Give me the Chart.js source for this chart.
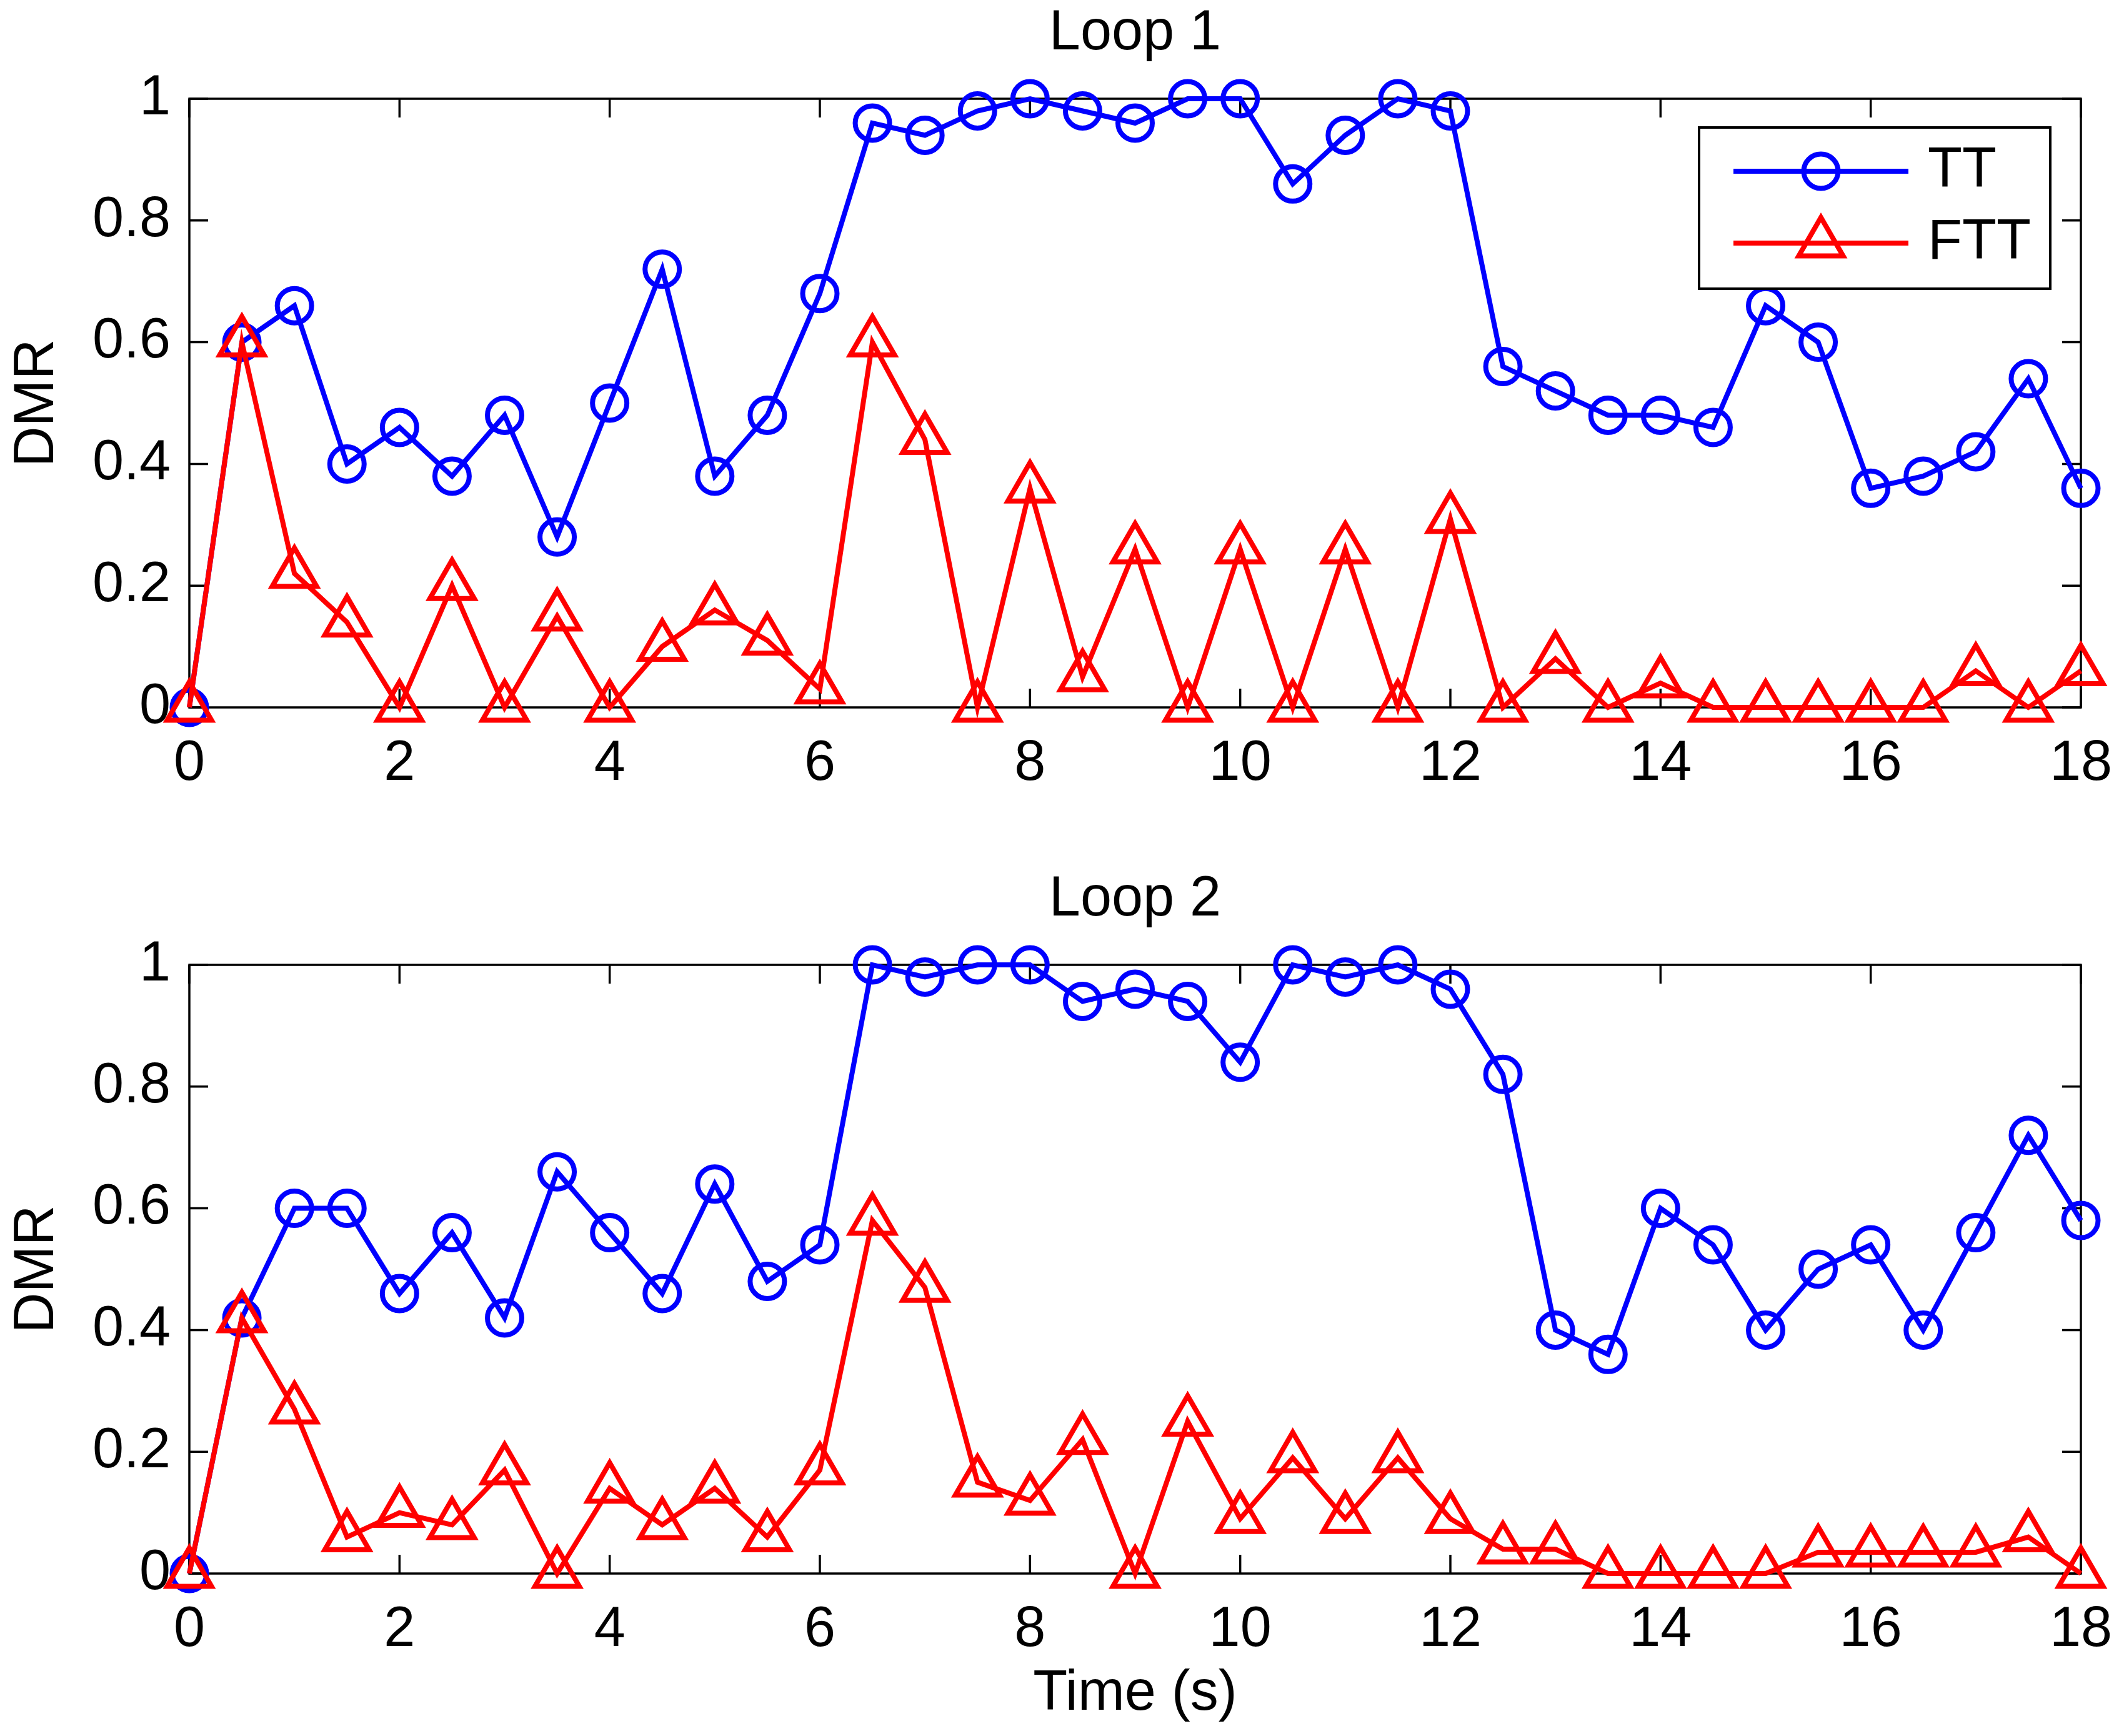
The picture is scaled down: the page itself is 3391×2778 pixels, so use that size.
<!DOCTYPE html>
<html>
<head>
<meta charset="utf-8">
<script src="https://cdn.jsdelivr.net/npm/chart.js@4.4.1/dist/chart.umd.min.js"></script>
<style>
  html, body { margin: 0; padding: 0; background: #fff; }
  #wrap { position: relative; width: 3391px; height: 2778px; }
  .panel { position: absolute; left: 0; }
</style>
</head>
<body>
<div id="wrap">
  <canvas id="loop1" class="panel" width="3391" height="1390" style="top:0px"></canvas>
  <canvas id="loop2" class="panel" width="3391" height="1388" style="top:1390px"></canvas>
</div>
<script>
// time axis (s)
const times = [0, 0.5, 1, 1.5, 2, 2.5, 3, 3.5, 4, 4.5, 5, 5.5, 6, 6.5, 7, 7.5, 8, 8.5, 9, 9.5,
  10, 10.5, 11, 11.5, 12, 12.5, 13, 13.5, 14, 14.5, 15, 15.5, 16, 16.5, 17, 17.5, 18];

// Loop 1
const loop1TT = [0, 0.60, 0.66, 0.40, 0.46, 0.38, 0.48, 0.28, 0.50, 0.72,
  0.38, 0.48, 0.68, 0.96, 0.94, 0.98, 1.00, 0.98, 0.96, 1.00,
  1.00, 0.86, 0.94, 1.00, 0.98, 0.56, 0.52, 0.48, 0.48, 0.46,
  0.66, 0.60, 0.36, 0.38, 0.42, 0.54, 0.36];
const loop1FTT = [0, 0.60, 0.22, 0.14, 0, 0.20, 0, 0.15, 0, 0.10,
  0.16, 0.11, 0.03, 0.60, 0.44, 0, 0.36, 0.05, 0.26, 0,
  0.26, 0, 0.26, 0, 0.31, 0, 0.08, 0, 0.04, 0,
  0, 0, 0, 0, 0.06, 0, 0.06];

// Loop 2
const loop2TT = [0, 0.42, 0.60, 0.60, 0.46, 0.56, 0.42, 0.66, 0.56, 0.46,
  0.64, 0.48, 0.54, 1.00, 0.98, 1.00, 1.00, 0.94, 0.96, 0.94,
  0.84, 1.00, 0.98, 1.00, 0.96, 0.82, 0.40, 0.36, 0.60, 0.54,
  0.40, 0.50, 0.54, 0.40, 0.56, 0.72, 0.58];
const loop2FTT = [0, 0.42, 0.27, 0.06, 0.10, 0.08, 0.17, 0, 0.14, 0.08,
  0.14, 0.06, 0.17, 0.58, 0.47, 0.15, 0.12, 0.22, 0, 0.25,
  0.09, 0.19, 0.09, 0.19, 0.09, 0.04, 0.04, 0, 0, 0,
  0, 0.035, 0.035, 0.035, 0.035, 0.06, 0];

const seriesNames = ['TT', 'FTT'];
const xTicks = [0, 2, 4, 6, 8, 10, 12, 14, 16, 18];
const yTicks = [0, 0.2, 0.4, 0.6, 0.8, 1];

const FONT = "'Liberation Sans', Arial, Helvetica, sans-serif";
const FONT_SIZE = 90;

// MATLAB style box, inward ticks, panel title and line+marker legend
const matlabAxes = {
  id: 'matlabAxes',
  beforeDatasetsDraw(chart) {
    const { ctx, chartArea: a, scales: { x, y } } = chart;
    ctx.save();
    ctx.strokeStyle = '#000';
    ctx.lineWidth = 3.5;
    ctx.strokeRect(a.left, a.top, a.right - a.left, a.bottom - a.top);
    ctx.beginPath();
    xTicks.forEach(v => {
      const px = x.getPixelForValue(v);
      ctx.moveTo(px, a.bottom); ctx.lineTo(px, a.bottom - 30);
      ctx.moveTo(px, a.top); ctx.lineTo(px, a.top + 30);
    });
    yTicks.forEach(v => {
      const py = y.getPixelForValue(v);
      ctx.moveTo(a.left, py); ctx.lineTo(a.left + 30, py);
      ctx.moveTo(a.right, py); ctx.lineTo(a.right - 30, py);
    });
    ctx.stroke();
    ctx.restore();
  },
  afterDraw(chart, args, opts) {
    const { ctx, chartArea: a } = chart;
    ctx.save();
    ctx.fillStyle = '#000';
    ctx.font = `${FONT_SIZE}px ${FONT}`;
    ctx.textAlign = 'center';
    ctx.textBaseline = 'middle';
    ctx.fillText(opts.title, (a.left + a.right) / 2, a.top - 104);

    if (opts.legend) {
      const bx = a.right - 611, by = a.top + 46, bw = 562, bh = 258;
      ctx.fillStyle = '#fff';
      ctx.fillRect(bx, by, bw, bh);
      ctx.strokeStyle = '#000';
      ctx.lineWidth = 4;
      ctx.strokeRect(bx, by, bw, bh);
      chart.data.datasets.forEach((ds, i) => {
        const ly = by + 70 + i * 115;
        ctx.strokeStyle = ds.borderColor;
        ctx.lineWidth = ds.borderWidth;
        ctx.beginPath();
        ctx.moveTo(bx + 55, ly);
        ctx.lineTo(bx + 335, ly);
        ctx.stroke();
        ctx.fillStyle = 'rgba(0,0,0,0)';
        Chart.helpers.drawPoint(ctx, {
          pointStyle: ds.pointStyle,
          radius: ds.pointRadius,
          borderWidth: ds.pointBorderWidth,
          rotation: 0
        }, bx + 195, ly);
        ctx.fillStyle = '#000';
        ctx.textAlign = 'left';
        ctx.fillText(ds.label, bx + 366, ly);
      });
    }
    ctx.restore();
  }
};

function makeDatasets(tt, ftt) {
  return [
    {
      label: seriesNames[0],
      data: times.map((t, i) => ({ x: t, y: tt[i] })),
      borderColor: '#0000FF',
      borderWidth: 8,
      pointStyle: 'circle',
      pointRadius: 27.5,
      pointBorderWidth: 8,
      pointBorderColor: '#0000FF',
      pointBackgroundColor: 'rgba(0,0,0,0)',
      tension: 0,
      clip: false,
      order: 2
    },
    {
      label: seriesNames[1],
      data: times.map((t, i) => ({ x: t, y: ftt[i] })),
      borderColor: '#FF0000',
      borderWidth: 8,
      pointStyle: 'triangle',
      pointRadius: 41,
      pointBorderWidth: 8,
      pointBorderColor: '#FF0000',
      pointBackgroundColor: 'rgba(0,0,0,0)',
      tension: 0,
      clip: false,
      order: 1
    }
  ];
}

function makeChart(id, title, tt, ftt, areaTop, showLegend, showXTitle) {
  const canvas = document.getElementById(id);
  const H = canvas.height;
  const xAxisHeight = H - (areaTop + 974);
  return new Chart(canvas, {
    type: 'line',
    data: { datasets: makeDatasets(tt, ftt) },
    plugins: [matlabAxes],
    options: {
      responsive: false,
      animation: false,
      devicePixelRatio: 1,
      events: [],
      layout: { padding: { left: 0, right: 61, top: areaTop, bottom: 0 } },
      scales: {
        x: {
          type: 'linear',
          min: 0,
          max: 18,
          afterBuildTicks: s => { s.ticks = xTicks.map(v => ({ value: v })); },
          afterFit: s => { s.height = xAxisHeight; s.paddingLeft = 0; s.paddingRight = 0; },
          grid: { display: false, drawTicks: false },
          border: { display: false },
          ticks: {
            color: '#000',
            font: { size: FONT_SIZE },
            padding: 37,
            autoSkip: false,
            maxRotation: 0,
            callback: v => String(v)
          },
          title: {
            display: showXTitle,
            text: 'Time (s)',
            color: '#000',
            font: { size: FONT_SIZE },
            padding: { top: 0, bottom: 13 }
          }
        },
        y: {
          min: 0,
          max: 1,
          afterBuildTicks: s => { s.ticks = yTicks.map(v => ({ value: v })); },
          afterFit: s => { s.width = 303; s.paddingTop = 0; s.paddingBottom = 0; },
          grid: { display: false, drawTicks: false },
          border: { display: false },
          ticks: {
            color: '#000',
            font: { size: FONT_SIZE },
            padding: 30,
            callback: v => String(v)
          },
          title: {
            display: true,
            text: 'DMR',
            color: '#000',
            font: { size: FONT_SIZE },
            padding: { top: 6, bottom: 0 }
          }
        }
      },
      plugins: {
        legend: { display: false },
        tooltip: { enabled: false },
        matlabAxes: { title: title, legend: showLegend }
      }
    }
  });
}

Chart.defaults.font.family = FONT;
Chart.defaults.color = '#000';

makeChart('loop1', 'Loop 1', loop1TT, loop1FTT, 158, true, false);
makeChart('loop2', 'Loop 2', loop2TT, loop2FTT, 154, false, true);
</script>
</body>
</html>
